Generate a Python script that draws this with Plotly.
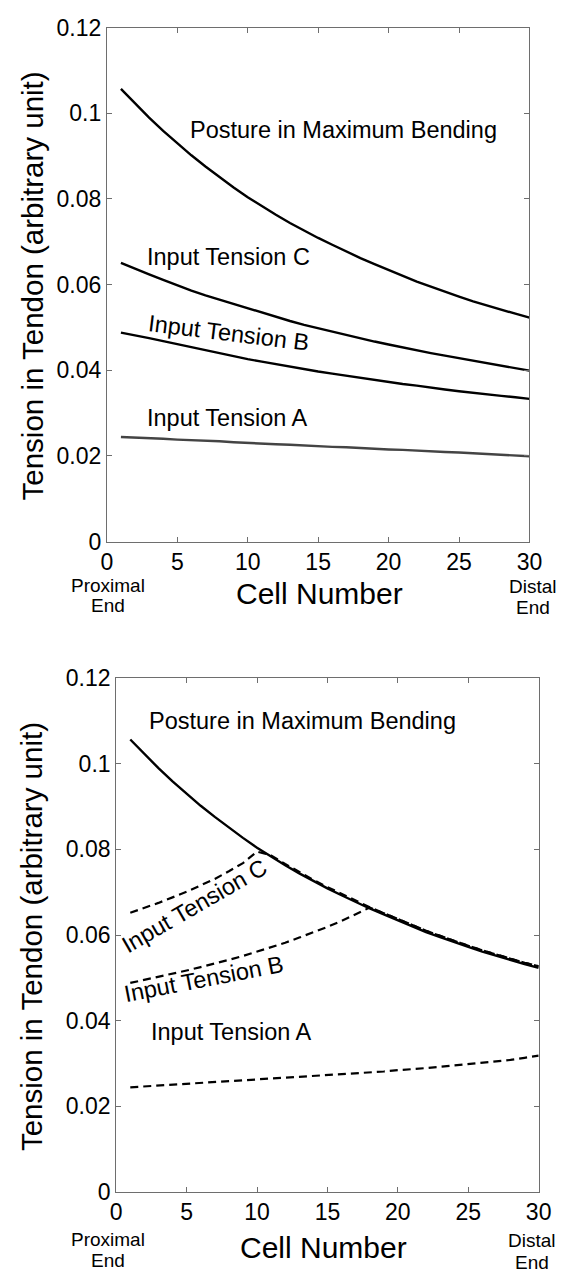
import plotly.graph_objects as go

W, H = 571, 1288

cells = list(range(1, 31))

# Top panel (solid curves)
posture = [0.1057, 0.1023, 0.0990, 0.0959, 0.0930, 0.0902, 0.0876, 0.0851, 0.0827, 0.0804,
           0.0783, 0.0763, 0.0744, 0.0726, 0.0709, 0.0693, 0.0677, 0.0662, 0.0648, 0.0634,
           0.0620, 0.0607, 0.0595, 0.0583, 0.0572, 0.0561, 0.0551, 0.0541, 0.0532, 0.0523]
tension_c = [0.0651, 0.0637, 0.0624, 0.0611, 0.0598, 0.0586, 0.0575, 0.0565, 0.0555, 0.0545,
             0.0535, 0.0524, 0.0515, 0.0506, 0.0498, 0.0490, 0.0482, 0.0474, 0.0467, 0.0460,
             0.0453, 0.0446, 0.0440, 0.0434, 0.0428, 0.0422, 0.0416, 0.0410, 0.0405, 0.0399]
tension_b = [0.0488, 0.0482, 0.0475, 0.0468, 0.0461, 0.0454, 0.0446, 0.0439, 0.0432, 0.0426,
             0.0420, 0.0414, 0.0408, 0.0402, 0.0397, 0.0392, 0.0387, 0.0382, 0.0377, 0.0372,
             0.0368, 0.0364, 0.0359, 0.0355, 0.0351, 0.0347, 0.0344, 0.0340, 0.0337, 0.0333]
tension_a = [0.0244, 0.0243, 0.0241, 0.0240, 0.0238, 0.0237, 0.0235, 0.0234, 0.0232, 0.0230,
             0.0229, 0.0227, 0.0226, 0.0224, 0.0223, 0.0221, 0.0220, 0.0218, 0.0217, 0.0215,
             0.0214, 0.0212, 0.0211, 0.0209, 0.0208, 0.0206, 0.0205, 0.0203, 0.0201, 0.0199]

# Bottom panel (dashed curves)
dash_c = [0.0652, 0.0663, 0.0675, 0.0688, 0.0701, 0.0716, 0.0731, 0.0749, 0.0768, 0.0795,
          0.0786, 0.0766, 0.0747, 0.0729, 0.0712, 0.0696, 0.0680, 0.0665, 0.0651, 0.0637,
          0.0623, 0.0610, 0.0598, 0.0586, 0.0575, 0.0564, 0.0554, 0.0544, 0.0535, 0.0527]
dash_b = [0.0488, 0.0495, 0.0502, 0.0509, 0.0517, 0.0525, 0.0533, 0.0542, 0.0551, 0.0561,
          0.0571, 0.0582, 0.0594, 0.0606, 0.0619, 0.0633, 0.0648, 0.0664, 0.0651, 0.0637,
          0.0623, 0.0610, 0.0598, 0.0586, 0.0575, 0.0564, 0.0554, 0.0544, 0.0535, 0.0527]
dash_a = [0.0244, 0.0246, 0.0248, 0.0250, 0.0252, 0.0254, 0.0256, 0.0258, 0.0260, 0.0262,
          0.0264, 0.0266, 0.0268, 0.0270, 0.0272, 0.0274, 0.0276, 0.0279, 0.0281, 0.0284,
          0.0286, 0.0289, 0.0292, 0.0295, 0.0298, 0.0301, 0.0304, 0.0308, 0.0313, 0.0318]

x_ticks = [0, 5, 10, 15, 20, 25, 30]
y_ticks = [0, 0.02, 0.04, 0.06, 0.08, 0.1, 0.12]
y_ticktext = ["0", "0.02", "0.04", "0.06", "0.08", "0.1", "0.12"]

FONT = "Liberation Sans, Arial, Helvetica, sans-serif"

fig = go.Figure()

def add_line(x, y, xa, ya, color="black", dash=None, width=2.4):
    fig.add_trace(go.Scatter(x=x, y=y, xaxis=xa, yaxis=ya, mode="lines",
                             line=dict(color=color, width=width, dash=dash),
                             showlegend=False, hoverinfo="skip"))

add_line(cells, posture, "x", "y")
add_line(cells, tension_c, "x", "y")
add_line(cells, tension_b, "x", "y")
add_line(cells, tension_a, "x", "y", color="#444444")

add_line(cells, posture, "x2", "y2")
add_line(cells, dash_c, "x2", "y2", dash="8px,5px", width=2.2)
add_line(cells, dash_b, "x2", "y2", dash="8px,5px", width=2.2)
add_line(cells, dash_a, "x2", "y2", dash="8px,5px", width=2.2)

def px_x(p):
    return p / W

def px_y(p):
    return 1 - p / H

axis_common = dict(showgrid=False, zeroline=False, showline=True, linecolor="#6e6e6e",
                   linewidth=1, mirror="ticks", ticks="inside", ticklen=5,
                   tickcolor="#6e6e6e", tickfont=dict(family=FONT, size=23, color="black"))

fig.update_layout(
    width=W, height=H, margin=dict(l=0, r=0, t=0, b=0),
    paper_bgcolor="white", plot_bgcolor="white",
    xaxis=dict(domain=[px_x(104.3), px_x(541.5)], range=[0, 30], tickvals=x_ticks,
               anchor="y", **axis_common),
    yaxis=dict(domain=[px_y(539.4), px_y(15)], range=[0, 0.12], tickvals=y_ticks,
               ticktext=y_ticktext, anchor="x", **axis_common),
    xaxis2=dict(domain=[px_x(114), px_x(551)], range=[0, 30], tickvals=x_ticks,
                anchor="y2", **axis_common),
    yaxis2=dict(domain=[px_y(1203), px_y(679)], range=[0, 0.12], tickvals=y_ticks,
                ticktext=y_ticktext, anchor="x2", **axis_common),
)

ann = []

def label(text, x, y, xref, yref, size=23.5, angle=0):
    ann.append(dict(text=text, x=x, y=y, xref=xref, yref=yref, showarrow=False,
                    textangle=angle, xanchor="center", yanchor="middle",
                    font=dict(family=FONT, size=size, color="black")))

# Top panel labels
label("Posture in Maximum Bending", 16.8, 0.0960, "x", "y")
label("Input Tension C", 8.66, 0.0664, "x", "y")
label("Input Tension B", 8.7, 0.0488, "x", "y", angle=7)
label("Input Tension A", 8.6, 0.0289, "x", "y")

# Bottom panel labels
label("Posture in Maximum Bending", 13.2, 0.1100, "x2", "y2")
label("Input Tension C", 5.56, 0.0668, "x2", "y2", angle=-30)
label("Input Tension B", 6.25, 0.0497, "x2", "y2", angle=-11)
label("Input Tension A", 8.2, 0.0373, "x2", "y2")

def ptext(text, x, y, size, angle=0):
    ann.append(dict(text=text, x=px_x(x), y=px_y(y), xref="paper", yref="paper",
                    showarrow=False, textangle=angle, xanchor="center", yanchor="middle",
                    borderpad=0, font=dict(family=FONT, size=size, color="black")))

ptext("Tension in Tendon (arbitrary unit)", 27, 279, 29.5, angle=-90)
ptext("Tension in Tendon (arbitrary unit)", 27, 943, 29.5, angle=-90)
ptext("Cell Number", 324, 592, 30)
ptext("Cell Number", 328, 1260, 30)
ptext("Proximal", 105, 584, 19)
ptext("End", 105, 605, 19)
ptext("Distal", 545, 585, 19)
ptext("End", 545, 607, 19)
ptext("Proximal", 105, 1252, 19)
ptext("End", 105, 1273, 19)
ptext("Distal", 544, 1253, 19)
ptext("End", 544, 1275, 19)

fig.update_layout(annotations=ann)

fig.write_html("out.html")
